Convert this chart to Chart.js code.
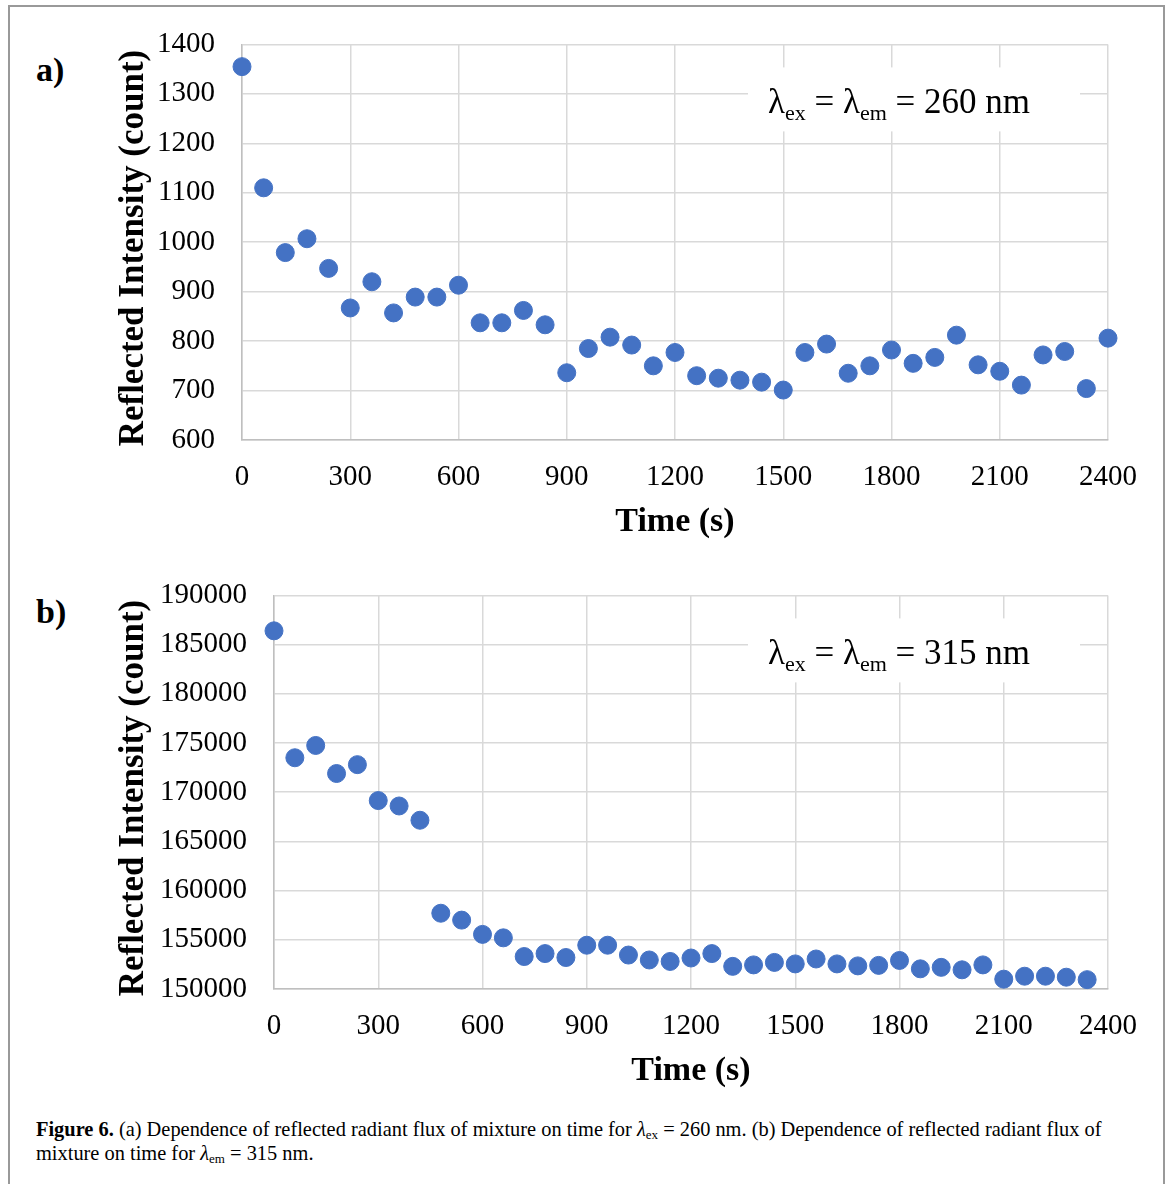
<!DOCTYPE html>
<html>
<head>
<meta charset="utf-8">
<script src="https://cdn.jsdelivr.net/npm/chart.js@4.4.1/dist/chart.umd.min.js"></script>
<style>
  html, body { margin: 0; padding: 0; background: #fff; }
  body { width: 1171px; height: 1184px; position: relative; overflow: hidden; font-family: 'Liberation Serif', serif; }
  #frame { position: absolute; left: 8px; top: 5px; width: 1157px; height: 1300px; border: 2px solid #999; box-sizing: border-box; }
  .panel { position: absolute; left: 0; width: 1171px; }
  #panelA { top: 0; height: 551px; }
  #panelB { top: 551px; height: 560px; }
  .tag { position: absolute; font: bold 34px 'Liberation Serif', serif; color: #000; line-height: 1; }
  #caption { position: absolute; left: 36px; top: 1117px; font-size: 20.4px; line-height: 24px; color: #000; white-space: nowrap; }
  #caption i { font-style: italic; }
  #caption sub { font-size: 13px; vertical-align: -3px; line-height: 0; }
</style>
</head>
<body>
<div id="frame"></div>
<div class="tag" style="left:36px; top:53px;">a)</div>
<div class="tag" style="left:36px; top:595px;">b)</div>
<div class="panel" id="panelA"><canvas id="chartA"></canvas></div>
<div class="panel" id="panelB"><canvas id="chartB"></canvas></div>
<div id="caption"><b>Figure 6.</b> (a) Dependence of reflected radiant flux of mixture on time for <i>λ</i><sub>ex</sub> = 260 nm. (b) Dependence of reflected radiant flux of<br>mixture on time for <i>λ</i><sub>em</sub> = 315 nm.</div>
<script>
// time (s) of each reading
const timeA = [0, 60, 120, 180, 240, 300, 360, 420, 480, 540, 600, 660, 720, 780, 840, 900, 960, 1020, 1080, 1140,
  1200, 1260, 1320, 1380, 1440, 1500, 1560, 1620, 1680, 1740, 1800, 1860, 1920, 1980, 2040, 2100, 2160, 2220, 2280, 2340, 2400];
const intensityA = [1355, 1110, 979, 1007, 947, 867, 920, 857, 889, 889, 913, 837, 837, 862, 833, 736, 785, 808, 792, 750,
  777, 730, 725, 721, 717, 701, 777, 794, 735, 750, 782, 755, 767, 812, 752, 739, 711, 772, 779, 704, 806];

const timeB = [0, 60, 120, 180, 240, 300, 360, 420, 480, 540, 600, 660, 720, 780, 840, 900, 960, 1020, 1080, 1140,
  1200, 1260, 1320, 1380, 1440, 1500, 1560, 1620, 1680, 1740, 1800, 1860, 1920, 1980, 2040, 2100, 2160, 2220, 2280, 2340];
const intensityB = [186400, 173500, 174750, 171900, 172800, 169150, 168600, 167150, 157700, 157000, 155550, 155200, 153300, 153600,
  153200, 154450, 154450, 153450, 152950, 152800, 153150, 153600, 152300, 152450, 152700, 152550, 153050, 152550, 152350, 152400,
  152900, 152050, 152200, 151950, 152450, 151000, 151300, 151300, 151200, 150950];

// tick labels
const xTicks = [0, 300, 600, 900, 1200, 1500, 1800, 2100, 2400];
const yTicksA = [600, 700, 800, 900, 1000, 1100, 1200, 1300, 1400];
const yTicksB = [150000, 155000, 160000, 165000, 170000, 175000, 180000, 185000, 190000];

const BLUE = '#4472C4';
const SERIF = "'Liberation Serif', 'Times New Roman', serif";

// white box with the lambda note, drawn over the grid
const notePlugin = {
  id: 'note',
  beforeDatasetsDraw(chart, args, opts) {
    const { ctx, chartArea } = chart;
    const boxRight = chartArea.right - 28;
    ctx.save();
    ctx.fillStyle = '#fff';
    ctx.fillRect(boxRight - 332, chartArea.top + 23, 332, 64);

    const big = '35px ' + SERIF, small = '22px ' + SERIF;
    const parts = [['λ', big, 0], ['ex', small, 7], [' = λ', big, 0], ['em', small, 7], [' = ' + opts.value + ' nm', big, 0]];
    let total = 0;
    parts.forEach(p => { ctx.font = p[1]; total += ctx.measureText(p[0]).width; });
    let x = chartArea.right - 209 - total / 2;
    const base = chartArea.top + 69;
    ctx.fillStyle = '#000';
    ctx.textBaseline = 'alphabetic';
    parts.forEach(p => {
      ctx.font = p[1];
      ctx.fillText(p[0], x, base + p[2]);
      x += ctx.measureText(p[0]).width;
    });
    ctx.restore();
  }
};

function makeChart(id, xs, ys, yTicks, yMin, yMax, yWidth, bottomPad, value) {
  const points = xs.map((t, i) => ({ x: t, y: ys[i] }));
  return new Chart(document.getElementById(id), {
    type: 'scatter',
    data: { datasets: [{ data: points, backgroundColor: BLUE, borderColor: BLUE, borderWidth: 1, pointRadius: 9, pointHoverRadius: 9, clip: false }] },
    options: {
      responsive: true, maintainAspectRatio: false, animation: false,
      layout: { padding: { left: 100, top: 44, right: 63, bottom: bottomPad } },
      plugins: { legend: { display: false }, tooltip: { enabled: false }, note: { value } },
      scales: {
        x: {
          type: 'linear', min: 0, max: 2400,
          afterBuildTicks: s => { s.ticks = xTicks.map(v => ({ value: v })); },
          afterFit: s => { s.height = 105; },
          grid: { color: '#d9d9d9', lineWidth: 1.5, drawTicks: false },
          border: { color: '#bfbfbf', width: 1.5 },
          ticks: { color: '#000', font: { family: SERIF, size: 29 }, padding: 20, maxRotation: 0, autoSkip: false, callback: v => String(v) },
          title: { display: true, text: 'Time (s)', color: '#000', font: { family: SERIF, size: 34, weight: 'bold' }, padding: { bottom: 2 } }
        },
        y: {
          min: yMin, max: yMax,
          afterBuildTicks: s => { s.ticks = yTicks.map(v => ({ value: v })); },
          afterFit: s => { s.width = yWidth; },
          grid: { color: '#d9d9d9', lineWidth: 1.5, drawTicks: false },
          border: { color: '#bfbfbf', width: 1.5 },
          ticks: { color: '#000', font: { family: SERIF, size: 29 }, padding: 27, callback: v => String(v) },
          title: { display: true, text: 'Reflected Intensity (count) \u200A', color: '#000', font: { family: SERIF, size: 35, weight: 'bold' }, padding: { top: 13 } }
        }
      }
    },
    plugins: [notePlugin]
  });
}

makeChart('chartA', timeA, intensityA, yTicksA, 600, 1400, 142, 6, 260);
makeChart('chartB', timeB, intensityB, yTicksB, 150000, 190000, 174, 17, 315);
</script>
</body>
</html>
